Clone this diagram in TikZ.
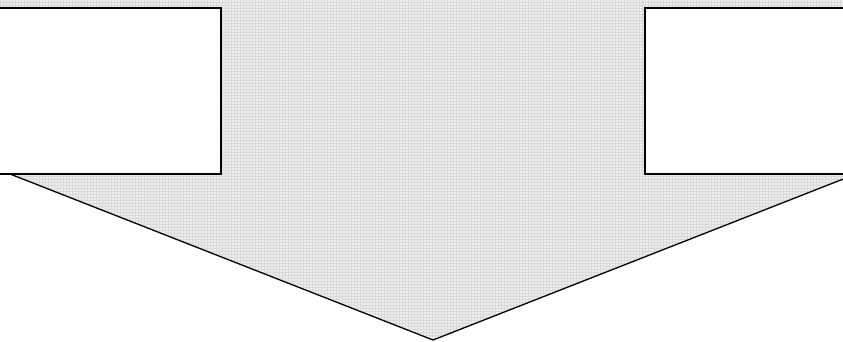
\documentclass[tikz,border=0pt]{standalone}
\usetikzlibrary{patterns}
\definecolor{patgray}{RGB}{238,238,238}
\tikzset{
  outline/.style={draw=black, line width=1.3pt, line join=miter},
  panel/.style={outline, fill=white},
  body/.style={fill=patgray}
}
\begin{document}
\begin{tikzpicture}[x=1pt, y=-1pt]
\useasboundingbox (0,0) rectangle (843,341);
\begin{scope}
\clip (0,0) rectangle (843,341);
% grey arrow body
\fill[body] (0,0) -- (843,0) -- (843,178.5) -- (433,340) -- (10,174) -- (0,174) -- cycle;
\fill[pattern=grid, pattern color=gray!30] (0,0) -- (843,0) -- (843,178.5) -- (433,340) -- (10,174) -- (0,174) -- cycle;
% arrow head edges
\coordinate (hl) at (10,174);
\coordinate (tip) at (433,340);
\coordinate (hr) at (856,174);
\draw[outline] (hl) -- (tip) -- (hr);
% white panels
\draw[panel] (-5,8) rectangle (221,174);
\draw[panel] (645,8) rectangle (850,174);
\end{scope}
\end{tikzpicture}
\end{document}
